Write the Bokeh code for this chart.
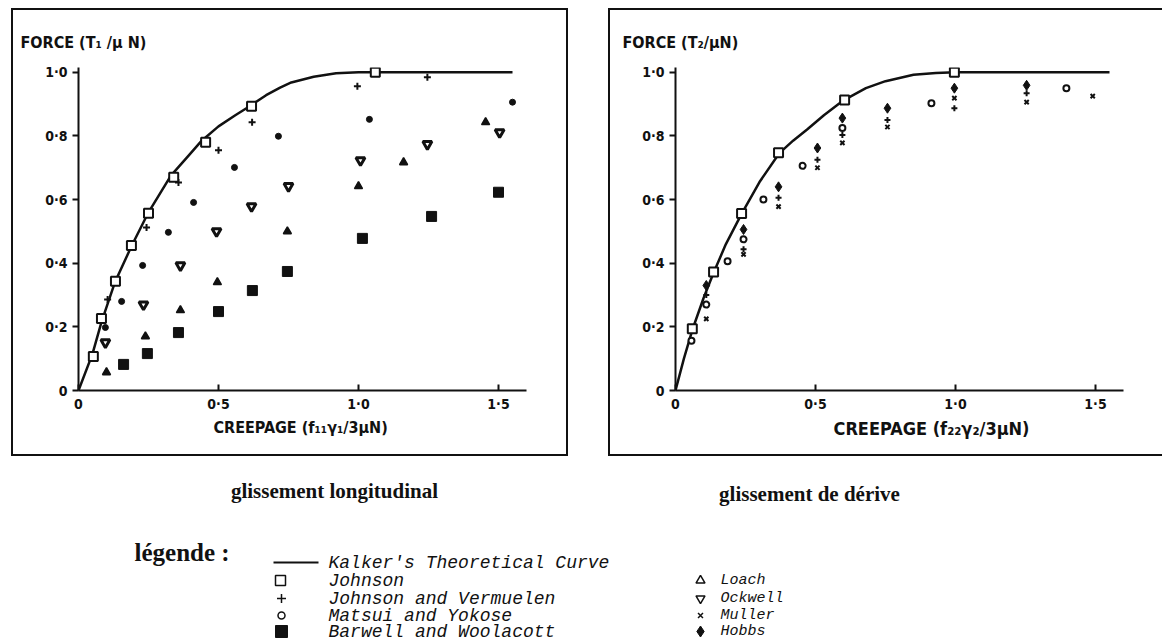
from bokeh.plotting import figure
from bokeh.layouts import column, row, Spacer
from bokeh.models import Range1d, FixedTicker, Title
from bokeh.core.properties import value
from bokeh.embed import file_html
from bokeh.resources import INLINE

# ---------------- data ----------------
# axis ticks
x_ticks = [0, 0.5, 1.0, 1.5]
x_tick_labels = ["0", "0·5", "1·0", "1·5"]
y_ticks = [0, 0.2, 0.4, 0.6, 0.8, 1.0]
y_tick_labels = ["0", "0·2", "0·4", "0·6", "0·8", "1·0"]

# ---- glissement longitudinal (left) ----
L_kalker_x = [0, 0.05, 0.082, 0.13, 0.19, 0.25, 0.33, 0.39, 0.44, 0.5, 0.56, 0.614, 0.67, 0.72, 0.76, 0.84, 0.92, 1.0, 1.55]
L_kalker_y = [0, 0.115, 0.215, 0.34, 0.455, 0.56, 0.675, 0.735, 0.785, 0.83, 0.865, 0.895, 0.928, 0.952, 0.968, 0.986, 0.997, 1.0, 1.0]
L_johnson_x = [0.053, 0.082, 0.132, 0.189, 0.25, 0.34, 0.454, 0.618, 1.06]
L_johnson_y = [0.107, 0.226, 0.343, 0.456, 0.557, 0.67, 0.78, 0.893, 1.0]
L_jv_x = [0.104, 0.243, 0.357, 0.50, 0.62, 0.996, 1.246]
L_jv_y = [0.286, 0.512, 0.654, 0.755, 0.843, 0.956, 0.984]
L_matsui_x = [0.096, 0.154, 0.229, 0.321, 0.411, 0.557, 0.714, 1.039, 1.55]
L_matsui_y = [0.198, 0.28, 0.393, 0.497, 0.591, 0.701, 0.799, 0.852, 0.906]
L_ockwell_x = [0.096, 0.232, 0.364, 0.493, 0.618, 0.75, 1.007, 1.246, 1.504]
L_ockwell_y = [0.151, 0.27, 0.393, 0.5, 0.579, 0.642, 0.723, 0.774, 0.811]
L_loach_x = [0.1, 0.239, 0.364, 0.496, 0.746, 1.0, 1.161, 1.454]
L_loach_y = [0.057, 0.17, 0.252, 0.34, 0.5, 0.642, 0.717, 0.843]
L_barwell_x = [0.161, 0.246, 0.357, 0.5, 0.621, 0.746, 1.014, 1.261, 1.5]
L_barwell_y = [0.082, 0.116, 0.182, 0.248, 0.314, 0.374, 0.478, 0.547, 0.623]

# ---- glissement de dérive (right) ----
R_kalker_x = [0, 0.03, 0.06, 0.1, 0.136, 0.18, 0.236, 0.3, 0.37, 0.42, 0.47, 0.53, 0.6, 0.68, 0.75, 0.85, 0.93, 1.0, 1.55]
R_kalker_y = [0, 0.1, 0.19, 0.29, 0.37, 0.46, 0.555, 0.655, 0.745, 0.785, 0.82, 0.865, 0.912, 0.95, 0.972, 0.992, 0.998, 1.0, 1.0]
R_johnson_x = [0.06, 0.136, 0.236, 0.368, 0.604, 0.996]
R_johnson_y = [0.194, 0.372, 0.556, 0.747, 0.913, 1.0]
R_matsui_x = [0.057, 0.11, 0.186, 0.243, 0.314, 0.454, 0.596, 0.914, 1.396]
R_matsui_y = [0.156, 0.27, 0.406, 0.475, 0.6, 0.706, 0.825, 0.903, 0.95]
R_jv_x = [0.11, 0.243, 0.368, 0.507, 0.596, 0.757, 0.996, 1.254]
R_jv_y = [0.30, 0.444, 0.606, 0.725, 0.803, 0.85, 0.887, 0.934]
R_muller_x = [0.11, 0.243, 0.368, 0.507, 0.596, 0.757, 0.996, 1.254, 1.49]
R_muller_y = [0.225, 0.428, 0.578, 0.70, 0.778, 0.828, 0.919, 0.906, 0.925]
R_hobbs_x = [0.11, 0.243, 0.368, 0.507, 0.596, 0.757, 0.996, 1.254]
R_hobbs_y = [0.33, 0.506, 0.64, 0.762, 0.856, 0.887, 0.95, 0.959]

# texts
left_ylabel = "FORCE (T\u2081 /\u03bc N)"
right_ylabel = "FORCE (T\u2082/\u03bcN)"
left_xlabel = "CREEPAGE  (f\u2081\u2081\u03b3\u2081/3\u03bcN)"
right_xlabel = "CREEPAGE (f\u2082\u2082\u03b3\u2082/3\u03bcN)"
captions = ["glissement longitudinal", "glissement de dérive"]
legend_title = "légende :"
legend_col1 = ["Kalker's Theoretical Curve", "Johnson", "Johnson and Vermuelen",
               "Matsui and Yokose", "Barwell and Woolacott"]
legend_col2 = ["Loach", "Ockwell", "Muller", "Hobbs"]

# ---------------- style ----------------
INK = "#111111"
SANS = "'DejaVu Sans Condensed', 'Liberation Sans Narrow', 'Liberation Sans', sans-serif"
SERIF = "'Liberation Serif', 'DejaVu Serif', serif"
MONO = "'Liberation Mono', 'DejaVu Sans Mono', monospace"


def overrides(vals, labels):
    d = {}
    for v, l in zip(vals, labels):
        d[float(v)] = l
        d[f"{v:g}"] = l
    return d


def make_panel(width, right_border, ytitle, ytitle_off, xtitle, xtitle_off, xtitle_size, shadow):
    p = figure(width=width, height=448, x_range=Range1d(0, 1.6), y_range=Range1d(0, 1.015),
               output_backend="svg", toolbar_location=None,
               min_border_left=67, min_border_right=right_border,
               min_border_top=59, min_border_bottom=66)
    p.grid.visible = False
    p.outline_line_color = None
    p.border_fill_color = None
    p.background_fill_color = "white"
    p.styles = {"box-shadow": shadow}

    p.title.text = ytitle
    p.title.align = "left"
    p.title.offset = ytitle_off
    p.title.text_font = SANS
    p.title.text_font_size = "16px"
    p.title.text_font_style = "bold"
    p.title.text_color = INK
    p.title.standoff = 32

    for ax in (p.xaxis[0], p.yaxis[0]):
        ax.axis_line_width = 2
        ax.axis_line_color = INK
        ax.major_tick_line_width = 2
        ax.major_tick_line_color = INK
        ax.minor_tick_line_color = None
        ax.major_label_text_font = SANS
        ax.major_label_text_font_size = "14px"
        ax.major_label_text_font_style = "bold"
        ax.major_label_text_color = INK

    xa = p.xaxis[0]
    xa.ticker = FixedTicker(ticks=x_ticks)
    xa.major_label_overrides = overrides(x_ticks, x_tick_labels)
    xa.major_tick_in = 6
    xa.major_tick_out = 0
    xa.major_label_standoff = 5

    ya = p.yaxis[0]
    ya.ticker = FixedTicker(ticks=y_ticks)
    ya.major_label_overrides = overrides(y_ticks, y_tick_labels)
    ya.major_tick_in = 0
    ya.major_tick_out = 6
    ya.major_label_standoff = 5

    t = Title(text=xtitle, align="left", offset=xtitle_off, text_font=SANS,
              text_font_size=xtitle_size, text_font_style="bold", text_color=INK, standoff=2)
    p.add_layout(t, "below")
    return p


p1 = make_panel(557, 42, left_ylabel, -58, left_xlabel, 135, "16px", "inset 0 0 0 2px #111")
p2 = make_panel(554, 39, right_ylabel, -53, right_xlabel, 158, "18px",
                "inset 2px 2px 0 0 #111, inset 0 -2px 0 0 #111")

# left panel marks
p1.line(L_kalker_x, L_kalker_y, line_width=2.5, line_color=INK)
p1.scatter(L_barwell_x, L_barwell_y, marker="square", size=10, fill_color=INK, line_color=INK)
p1.scatter(L_loach_x, L_loach_y, marker="triangle", size=8, fill_color=INK, line_color=INK, line_width=1.5)
p1.scatter(L_ockwell_x, L_ockwell_y, marker="inverted_triangle", size=9, fill_color="white", line_color=INK, line_width=3)
p1.scatter(L_matsui_x, L_matsui_y, marker="circle", size=6, fill_color=INK, line_color=INK)
p1.scatter(L_jv_x, L_jv_y, marker="cross", size=7, line_color=INK, line_width=2)
p1.scatter(L_johnson_x, L_johnson_y, marker="square", size=9, fill_color="white", line_color=INK, line_width=2)

# right panel marks
p2.line(R_kalker_x, R_kalker_y, line_width=2.5, line_color=INK)
p2.scatter(R_matsui_x, R_matsui_y, marker="circle", size=6, fill_color="white", line_color=INK, line_width=2)
p2.scatter(R_jv_x, R_jv_y, marker="cross", size=6, line_color=INK, line_width=2)
p2.scatter(R_muller_x, R_muller_y, marker="x", size=6, line_color=INK, line_width=2)
p2.scatter(R_hobbs_x, R_hobbs_y, marker="diamond", size=10, fill_color=INK, line_color=INK)
p2.scatter(R_johnson_x, R_johnson_y, marker="square", size=9, fill_color="white", line_color=INK, line_width=2)

# footer: captions and legend (page pixel frame)
f = figure(width=1162, height=184, x_range=Range1d(0, 1162), y_range=Range1d(640, 456),
           output_backend="svg", toolbar_location=None, min_border=0,
           x_axis_type=None, y_axis_type=None)
f.grid.visible = False
f.outline_line_color = None

f.text(x=[334, 809], y=[490, 493], text=captions, text_align="center", text_baseline="middle",
       text_font=value(SERIF), text_font_size="21px", text_font_style="bold", text_color=INK)
f.text(x=[134], y=[552], text=[legend_title], text_align="left", text_baseline="middle",
       text_font=value(SERIF), text_font_size="25px", text_font_style="bold", text_color=INK)

rows1 = [562, 580, 598, 615, 631]
rows2 = rows1[1:]
f.segment(x0=[273], y0=[rows1[0]], x1=[318], y1=[rows1[0]], line_width=2, line_color=INK)
f.scatter([280], [rows1[1]], marker="square", size=10, fill_color="white", line_color=INK, line_width=1.5)
f.scatter([281], [rows1[2]], marker="cross", size=9, line_color=INK, line_width=1.5)
f.scatter([281], [rows1[3]], marker="circle", size=7, fill_color="white", line_color=INK, line_width=1.5)
f.scatter([281], [rows1[4]], marker="square", size=12, fill_color=INK, line_color=INK)
f.scatter([700], [rows2[0]], marker="triangle", size=9, fill_color="white", line_color=INK, line_width=1.5)
f.scatter([700], [rows2[1]], marker="inverted_triangle", size=9, fill_color="white", line_color=INK, line_width=1.5)
f.scatter([700], [rows2[2]], marker="x", size=7, line_color=INK, line_width=1.5)
f.scatter([700], [rows2[3]], marker="diamond", size=11, fill_color=INK, line_color=INK)

f.text(x=[328] * 5, y=rows1, text=legend_col1, text_align="left", text_baseline="middle",
       text_font=value(MONO), text_font_size="18px", text_font_style="italic", text_color=INK)
f.text(x=[720] * 4, y=rows2, text=legend_col2, text_align="left", text_baseline="middle",
       text_font=value(MONO), text_font_size="15px", text_font_style="italic", text_color=INK)

layout = column(Spacer(width=10, height=8),
                row(Spacer(width=11, height=448), p1, Spacer(width=40, height=448), p2, spacing=0),
                f, spacing=0)

open("out.html", "w").write(file_html(layout, INLINE))
